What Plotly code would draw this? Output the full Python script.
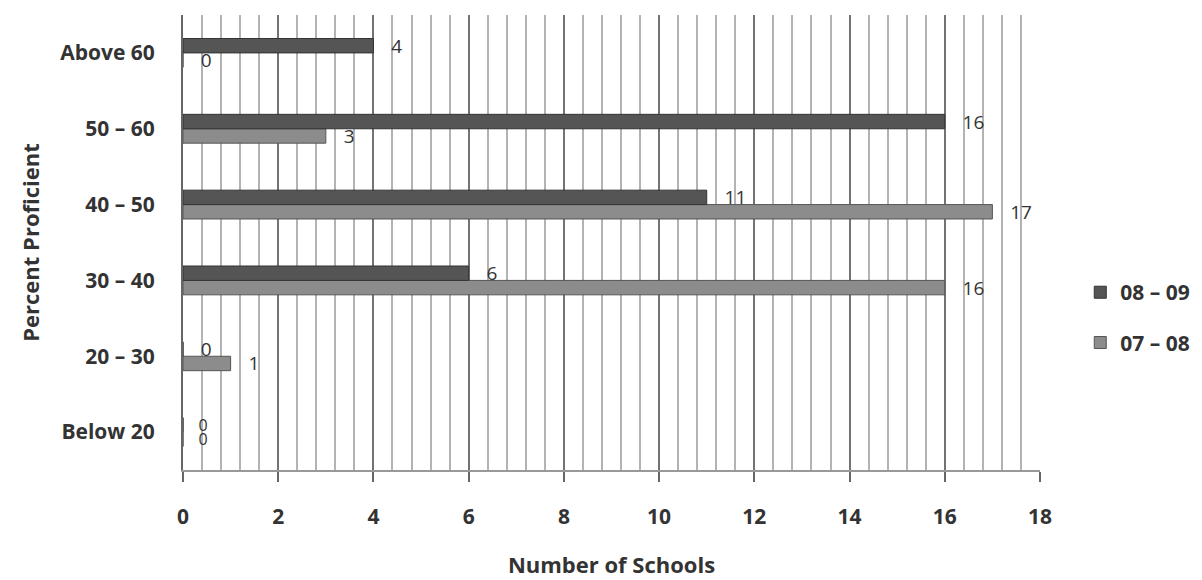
import plotly.graph_objects as go

categories = ["Below 20", "20 – 30", "30 – 40", "40 – 50", "50 – 60", "Above 60"]
s0809 = [0, 0, 6, 11, 16, 4]
s0708 = [0, 1, 16, 17, 3, 0]
xticks = [0, 2, 4, 6, 8, 10, 12, 14, 16, 18]

FONT = "Open Sans"
PAD = "\u00a0\u00a0\u00a0"
# the two zero labels of "Below 20" sit stacked and touching, as in the reference
sizes = [16, 19, 19, 19, 19, 19]

fig = go.Figure()
fig.add_trace(go.Bar(
    y=categories, x=s0708, orientation="h", name="07 – 08",
    marker=dict(color="#8c8c8c", line=dict(color="#555555", width=1)),
    text=[PAD + str(v) for v in s0708], textposition="outside",
    cliponaxis=False, constraintext="none",
    textfont=dict(family=FONT, size=sizes, color="#333333"), legendrank=2, legendgroup="b",
))
fig.add_trace(go.Bar(
    y=categories, x=s0809, orientation="h", name="08 – 09",
    marker=dict(color="#555555", line=dict(color="#333333", width=1)),
    text=[PAD + str(v) for v in s0809], textposition="outside",
    cliponaxis=False, constraintext="none",
    textfont=dict(family=FONT, size=sizes, color="#333333"), legendrank=1, legendgroup="a",
))

fig.update_layout(
    width=1194, height=572,
    paper_bgcolor="white", plot_bgcolor="white",
    barmode="group", bargap=0.62, bargroupgap=0,
    margin=dict(l=175, r=162, t=7, b=110),
    font=dict(family=FONT, size=20, color="#333333"),
    legend=dict(x=1.047, y=0.335, xanchor="left", yanchor="middle",
                font=dict(family=FONT, size=21, color="#333333", weight="bold"),
                itemwidth=30, tracegroupgap=20),
    xaxis=dict(
        range=[0, 18], tickvals=xticks, ticktext=[str(v) for v in xticks],
        showgrid=True, gridcolor="#737373", gridwidth=2,
        minor=dict(dtick=0.4, tick0=0, showgrid=True, gridcolor="#b3b3b3", gridwidth=2),
        ticks="outside", ticklen=10, tickwidth=2, tickcolor="#666666",
        ticklabelstandoff=17,
        tickfont=dict(family=FONT, size=21, color="#333333", weight="bold"),
        showline=True, linecolor="#999999", linewidth=2,
        zeroline=False,
        title=dict(text="Number of Schools", standoff=28,
                   font=dict(family=FONT, size=22, color="#333333", weight="bold")),
    ),
    yaxis=dict(
        categoryorder="array", categoryarray=categories,
        showgrid=False, ticks="", ticklabelstandoff=22,
        tickfont=dict(family=FONT, size=21, color="#333333", weight="bold"),
        showline=True, linecolor="#666666", linewidth=2,
        title=dict(text="Percent Proficient", standoff=14,
                   font=dict(family=FONT, size=22, color="#333333", weight="bold")),
    ),
)

fig.write_html("out.html")
